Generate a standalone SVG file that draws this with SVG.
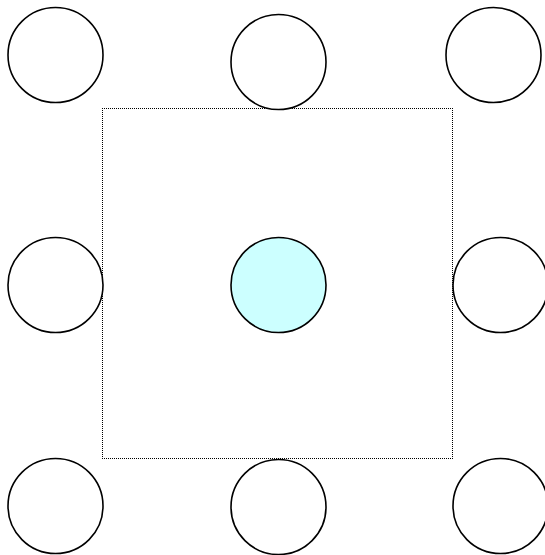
<svg xmlns="http://www.w3.org/2000/svg" width="545" height="555" viewBox="0 0 545 555">
<style>
.n{fill:#ffffff;stroke:#000000;stroke-width:1.6}
.c{fill:#ccffff;stroke:#000000;stroke-width:1.6}
.box{fill:none;stroke:#000000;stroke-width:1;stroke-dasharray:1,1}
</style>
<rect width="545" height="555" fill="#ffffff"/>
<g id="frame">
<path class="box" d="M102,108.5 H453"/>
<path class="box" d="M102,458.5 H453"/>
<path class="box" d="M102.5,108 V459"/>
<path class="box" d="M452.5,108 V459"/>
</g>
<g id="connectors"></g>
<g id="n1"><circle class="n" cx="55.5" cy="55" r="47.5"/></g>
<g id="n2"><circle class="n" cx="278.5" cy="62" r="47.5"/></g>
<g id="n3"><circle class="n" cx="493.5" cy="55" r="47.5"/></g>
<g id="n4"><circle class="n" cx="55.5" cy="285" r="47.5"/></g>
<g id="n5"><circle class="c" cx="278.5" cy="285" r="47.5"/></g>
<g id="n6"><circle class="n" cx="500.5" cy="285" r="47.5"/></g>
<g id="n7"><circle class="n" cx="55.5" cy="506" r="47.5"/></g>
<g id="n8"><circle class="n" cx="278.5" cy="507" r="47.5"/></g>
<g id="n9"><circle class="n" cx="500.5" cy="506" r="47.5"/></g>
</svg>
